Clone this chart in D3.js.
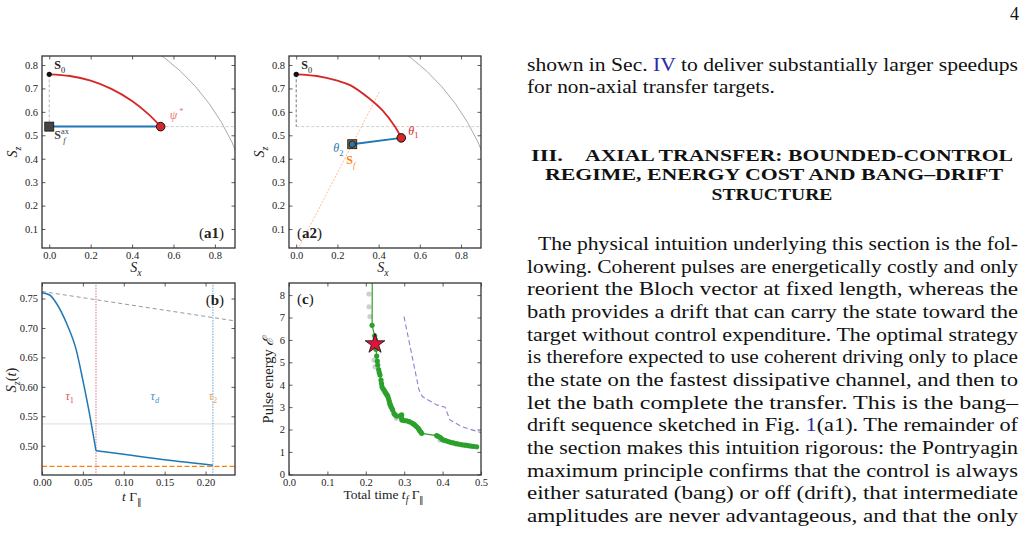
<!DOCTYPE html>
<html>
<head>
<meta charset="utf-8">
<script src="https://cdn.jsdelivr.net/npm/d3@7"></script>
<style>
body{margin:0;background:#fff;}
svg{display:block;font-family:"Liberation Serif","Times New Roman",serif;}
</style>
</head>
<body>
<svg id="page" width="1025" height="535"></svg>
<script>
// ---------- values ----------
// (a1) axial bang-drift path
var a1S0 = [0, 0.76];
var a1Psi = [0.538, 0.537];
var a1Target = [0, 0.537];
var a1Arc = [[0,0.760],[0.1,0.753],[0.2,0.733],[0.3,0.698],[0.4,0.646],[0.48,0.589],[0.538,0.537]];
var blochRadius = 1;

// (a2) non-axial target
var a2S0 = [0, 0.76];
var a2Theta1 = [0.51, 0.489];
var a2Sf = [0.272, 0.462];
var a2Arc = [[0,0.760],[0.1,0.753],[0.2,0.733],[0.262,0.714],[0.35,0.660],[0.42,0.605],[0.48,0.536],[0.51,0.489]];
var a2Ray = [[0,0],[0.406,0.689]];
var szAxial = 0.537;

// (b) S_z(t)
var bBang = [[0,0.760],[0.0094,0.756],[0.0176,0.742],[0.030,0.708],[0.042,0.662],[0.050,0.611],[0.058,0.555],[0.066,0.4915]];
var bDrift = [[0.066,0.4915],[0.10,0.4855],[0.15,0.476],[0.209,0.467]];
var bFree = [[0,0.762],[0.236,0.712]];
var tau1 = 0.066, tauEnd = 0.209;
var szTarget = 0.465;

// (c) pulse energy vs total time
var cFront = [[0.2170,9.5],[0.2164,6.65],[0.2231,6.18],[0.2248,6.00],[0.2266,5.58],[0.2283,5.28],[0.2300,5.05],
  [0.2310,4.88],[0.2335,4.68],[0.2350,4.55],[0.2370,4.43],[0.2396,4.21],[0.2410,4.05],[0.2422,3.91],
  [0.2450,3.82],[0.2474,3.76],[0.2500,3.68],[0.2526,3.61],[0.2550,3.55],[0.2570,3.49],[0.2595,3.37],
  [0.2610,3.27],[0.2622,3.17],[0.2640,3.10],[0.2656,3.02],[0.2680,2.95],[0.2700,2.87],[0.2734,2.72],
  [0.2760,2.66],[0.2804,2.60],[0.2900,2.62],[0.2934,2.65],[0.2934,2.50],[0.2940,2.42],[0.3000,2.40],
  [0.3064,2.39],[0.3130,2.35],[0.3194,2.30],[0.3240,2.25],[0.3280,2.20],[0.3320,2.13],[0.3368,2.05],
  [0.3400,1.96],[0.3428,1.90],[0.3455,1.83],[0.3845,1.73],[0.3880,1.70],[0.3932,1.65],[0.3980,1.58],
  [0.4019,1.53],[0.4080,1.50],[0.4149,1.46],[0.4210,1.43],[0.4280,1.40],[0.4350,1.37],[0.4410,1.35],
  [0.4480,1.33],[0.4540,1.31],[0.4600,1.30],[0.4670,1.28],[0.4740,1.26],[0.4800,1.25],[0.4887,1.23]];
var cGray = [[0.2083,8.05],[0.2083,7.48],[0.2109,7.04],[0.2214,5.10],[0.2240,4.80],[0.2795,2.50],[0.3932,1.53]];
var cBound = [[0.2995,7.04],[0.3385,3.77],[0.3472,3.47],[0.3850,3.10],[0.4063,3.00],[0.4190,2.43],[0.4497,2.13],[0.5000,1.86]];
var cStar = [0.224, 5.82];

// tick labels
var aXTicks = [0, 0.2, 0.4, 0.6, 0.8];
var aYTicks = [0.1, 0.2, 0.3, 0.4, 0.5, 0.6, 0.7, 0.8];
var bXTicks = [0, 0.05, 0.10, 0.15, 0.20];
var bYTicks = [0.50, 0.55, 0.60, 0.65, 0.70, 0.75];
var cXTicks = [0, 0.1, 0.2, 0.3, 0.4, 0.5];
var cYTicks = [0, 1, 2, 3, 4, 5, 6, 7, 8];

// page text
var pageNumber = "4";
var introLines = ["shown in Sec. {IV} to deliver substantially larger speedups", "for non-axial transfer targets."];
var headLines = ["AXIAL TRANSFER: BOUNDED-CONTROL", "REGIME, ENERGY COST AND BANG\u2013DRIFT", "STRUCTURE"];
var bodyLines = [
  "The physical intuition underlying this section is the fol-",
  "lowing. Coherent pulses are energetically costly and only",
  "reorient the Bloch vector at fixed length, whereas the",
  "bath provides a drift that can carry the state toward the",
  "target without control expenditure. The optimal strategy",
  "is therefore expected to use coherent driving only to place",
  "the state on the fastest dissipative channel, and then to",
  "let the bath complete the transfer. This is the bang\u2013",
  "drift sequence sketched in Fig. {1}(a1). The remainder of",
  "the section makes this intuition rigorous: the Pontryagin",
  "maximum principle confirms that the control is always",
  "either saturated (bang) or off (drift), that intermediate",
  "amplitudes are never advantageous, and that the only"
];

// ---------- drawing ----------
var svg = d3.select("#page");
svg.append("rect").attr("width",1025).attr("height",535).attr("fill","#fff");
var defs = svg.append("defs");
var RED = "#d62728", BLUE = "#1f77b4", ORANGE = "#ff7f0e", GREEN = "#2ca02c", LINK = "#2a2aa8";

function panel(id, left, top, w, h, xd, yd, xt, yt, xf, yf){
    var x = d3.scaleLinear().domain(xd).range([left, left+w]);
    var y = d3.scaleLinear().domain(yd).range([top+h, top]);
    defs.append("clipPath").attr("id","clip"+id).append("rect")
        .attr("x",left).attr("y",top).attr("width",w).attr("height",h);
    var g = svg.append("g");
    var plot = g.append("g").attr("clip-path","url(#clip"+id+")");
    var axes = [
        [d3.axisBottom(x).tickValues(xt).tickFormat(d3.format(xf)), "translate(0,"+(top+h)+")"],
        [d3.axisTop(x).tickValues(xt).tickFormat(""), "translate(0,"+top+")"],
        [d3.axisLeft(y).tickValues(yt).tickFormat(d3.format(yf)), "translate("+left+",0)"],
        [d3.axisRight(y).tickValues(yt).tickFormat(""), "translate("+(left+w)+",0)"]
    ];
    axes.forEach(function(a){
        var ax = g.append("g").attr("transform",a[1])
            .call(a[0].tickSize(-3.5).tickSizeOuter(0).tickPadding(4));
        ax.select(".domain").remove();
        ax.selectAll("line").attr("stroke","#333").attr("stroke-width",0.8);
        ax.selectAll("text").attr("font-family","Liberation Serif, serif").attr("font-size",10.5).attr("fill","#222");
    });
    g.append("rect").attr("x",left).attr("y",top).attr("width",w).attr("height",h)
        .attr("fill","none").attr("stroke","#333").attr("stroke-width",1.3);
    return {x:x, y:y, g:g, plot:plot};
}

// math-ish text: parts = [{t, i, b, sub, sup}]
function mtext(g, x, y, size, parts, fill){
    var t = g.append("text").attr("x",x).attr("y",y).attr("font-size",size).attr("fill",fill||"#222");
    var shift = 0;
    parts.forEach(function(p){
        var s = t.append("tspan").text(p.t);
        var target = p.sub ? size*0.3 : (p.sup ? -size*0.4 : 0);
        if(target !== shift){ s.attr("dy", target-shift); shift = target; }
        if(p.sub || p.sup) s.attr("font-size", size*0.7);
        if(p.i) s.attr("font-style","italic");
        if(p.b) s.attr("font-weight","bold");
        if(p.fill) s.attr("fill",p.fill);
    });
    return t;
}
function ylabel(x, y, size, parts){
    var g = svg.append("g").attr("transform","translate("+x+","+y+") rotate(-90)");
    mtext(g, 0, 0, size, parts).attr("text-anchor","middle");
}
function lineOf(p, curve){
    return d3.line().x(function(d){return p.x(d[0]);}).y(function(d){return p.y(d[1]);}).curve(curve||d3.curveLinear);
}

// ----- (a1) -----
var A1 = panel("a1", 42, 56, 193, 192, [-0.035,0.897], [0.019,0.8384], aXTicks, aYTicks, ".1f", ".1f");
A1.plot.append("ellipse").attr("cx",A1.x(0)).attr("cy",A1.y(0))
    .attr("rx",A1.x(blochRadius)-A1.x(0)).attr("ry",A1.y(0)-A1.y(blochRadius))
    .attr("fill","none").attr("stroke","#aaa").attr("stroke-width",1);
A1.plot.append("path").datum([a1Psi,[1,szAxial]]).attr("d",lineOf(A1))
    .attr("stroke","#c8c8c8").attr("stroke-width",0.9).attr("stroke-dasharray","3,2").attr("fill","none");
A1.plot.append("path").datum([a1S0,a1Target]).attr("d",lineOf(A1))
    .attr("stroke","#b8b8b8").attr("stroke-width",1).attr("stroke-dasharray","3,2").attr("fill","none");
A1.plot.append("path").datum(a1Arc).attr("d",lineOf(A1,d3.curveCatmullRom))
    .attr("stroke",RED).attr("stroke-width",1.8).attr("fill","none");
A1.plot.append("path").datum([a1Target,a1Psi]).attr("d",lineOf(A1))
    .attr("stroke",BLUE).attr("stroke-width",2).attr("fill","none");
A1.plot.append("rect").attr("x",A1.x(a1Target[0])-4.5).attr("y",A1.y(a1Target[1])-4.5)
    .attr("width",9).attr("height",9).attr("fill","#444").attr("stroke","#111").attr("stroke-width",0.8);
A1.plot.append("circle").attr("cx",A1.x(a1Psi[0])).attr("cy",A1.y(a1Psi[1])).attr("r",4.3)
    .attr("fill",RED).attr("stroke","#111").attr("stroke-width",1);
A1.plot.append("circle").attr("cx",A1.x(a1S0[0])).attr("cy",A1.y(a1S0[1])).attr("r",2.6).attr("fill","#111");
mtext(A1.g, A1.x(a1S0[0])+5, A1.y(a1S0[1])-5, 12, [{t:"S",b:true},{t:"0",sub:true}]);
mtext(A1.g, A1.x(a1Psi[0])+9, A1.y(a1Psi[1])-8, 12, [{t:"\u03c8",i:true},{t:" *",sup:true}], "#e8757a");
mtext(A1.g, A1.x(a1Target[0])+5, A1.y(a1Target[1])+12, 12, [{t:"S",b:true},{t:"ax",sup:true}], "#444");
mtext(A1.g, A1.x(a1Target[0])+14, A1.y(a1Target[1])+16, 8.5, [{t:"f",i:true}], "#444");
mtext(A1.g, 224, 238, 15, [{t:"("},{t:"a1",b:true},{t:")"}]).attr("text-anchor","end");
mtext(svg, 136, 272, 14, [{t:"S",i:true},{t:"x",i:true,sub:true}]).attr("text-anchor","middle");
ylabel(17, 152, 14, [{t:"S",i:true},{t:"z",i:true,sub:true}]);

// ----- (a2) -----
var A2 = panel("a2", 289, 56, 192, 192, [-0.035,0.897], [0.019,0.8384], aXTicks, aYTicks, ".1f", ".1f");
A2.plot.append("ellipse").attr("cx",A2.x(0)).attr("cy",A2.y(0))
    .attr("rx",A2.x(blochRadius)-A2.x(0)).attr("ry",A2.y(0)-A2.y(blochRadius))
    .attr("fill","none").attr("stroke","#aaa").attr("stroke-width",1);
A2.plot.append("path").datum([[0,szAxial],[1,szAxial]]).attr("d",lineOf(A2))
    .attr("stroke","#c8c8c8").attr("stroke-width",0.9).attr("stroke-dasharray","3,2").attr("fill","none");
A2.plot.append("path").datum([a2S0,[0,szAxial]]).attr("d",lineOf(A2))
    .attr("stroke","#666").attr("stroke-width",0.9).attr("stroke-dasharray","3,2").attr("fill","none");
A2.plot.append("path").datum(a2Ray).attr("d",lineOf(A2))
    .attr("stroke","#ffb482").attr("stroke-width",0.9).attr("stroke-dasharray","2,1.5").attr("fill","none");
A2.plot.append("path").datum(a2Arc).attr("d",lineOf(A2,d3.curveCatmullRom))
    .attr("stroke",RED).attr("stroke-width",1.8).attr("fill","none");
A2.plot.append("path").datum([a2Sf,a2Theta1]).attr("d",lineOf(A2))
    .attr("stroke",BLUE).attr("stroke-width",2).attr("fill","none");
A2.plot.append("rect").attr("x",A2.x(a2Sf[0])-4.5).attr("y",A2.y(a2Sf[1])-4.5)
    .attr("width",9).attr("height",9).attr("fill","#a0602a").attr("stroke","#111").attr("stroke-width",0.8);
A2.plot.append("circle").attr("cx",A2.x(a2Sf[0])).attr("cy",A2.y(a2Sf[1])).attr("r",3.3)
    .attr("fill",BLUE).attr("stroke","#111").attr("stroke-width",0.8);
A2.plot.append("circle").attr("cx",A2.x(a2Theta1[0])).attr("cy",A2.y(a2Theta1[1])).attr("r",4.3)
    .attr("fill",RED).attr("stroke","#111").attr("stroke-width",1);
A2.plot.append("circle").attr("cx",A2.x(a2S0[0])).attr("cy",A2.y(a2S0[1])).attr("r",2.6).attr("fill","#111");
mtext(A2.g, A2.x(a2S0[0])+5, A2.y(a2S0[1])-5, 12, [{t:"S",b:true},{t:"0",sub:true}]);
mtext(A2.g, A2.x(a2Theta1[0])+7, A2.y(a2Theta1[1])-3, 12, [{t:"\u03b8",i:true},{t:"1",sub:true}], RED);
mtext(A2.g, A2.x(a2Sf[0])-19, A2.y(a2Sf[1])+8, 12, [{t:"\u03b8",i:true},{t:"2",sub:true}], BLUE);
mtext(A2.g, A2.x(a2Sf[0])-6, A2.y(a2Sf[1])+20, 12, [{t:"S",b:true},{t:"f",i:true,sub:true}], ORANGE);
mtext(A2.g, 297, 238, 15, [{t:"("},{t:"a2",b:true},{t:")"}]);
mtext(svg, 383, 272, 14, [{t:"S",i:true},{t:"x",i:true,sub:true}]).attr("text-anchor","middle");
ylabel(264, 152, 14, [{t:"S",i:true},{t:"z",i:true,sub:true}]);

// ----- (b) -----
var B = panel("b", 42, 283, 193, 192, [0,0.236], [0.4503,0.7764], bXTicks, bYTicks, ".2f", ".2f");
B.plot.append("path").datum([[0,szAxial],[1,szAxial]]).attr("d",lineOf(B))
    .attr("stroke","#dcdcdc").attr("stroke-width",1).attr("fill","none");
B.plot.append("path").datum([[0,szTarget],[1,szTarget]]).attr("d",lineOf(B))
    .attr("stroke",ORANGE).attr("stroke-width",1.3).attr("stroke-dasharray","5,2.5").attr("fill","none");
B.plot.append("path").datum(bFree).attr("d",lineOf(B))
    .attr("stroke","#999").attr("stroke-width",1).attr("stroke-dasharray","4,3").attr("fill","none");
B.plot.append("path").datum([[tau1,0],[tau1,1]]).attr("d",lineOf(B))
    .attr("stroke","#e0707a").attr("stroke-width",1).attr("stroke-dasharray","1.5,1.2").attr("fill","none");
B.plot.append("path").datum([[tauEnd,0],[tauEnd,1]]).attr("d",lineOf(B))
    .attr("stroke","#6aa3d5").attr("stroke-width",1).attr("stroke-dasharray","1.5,1.2").attr("fill","none");
B.plot.append("path").datum(bBang).attr("d",lineOf(B,d3.curveMonotoneX))
    .attr("stroke",BLUE).attr("stroke-width",1.5).attr("fill","none");
B.plot.append("path").datum(bDrift).attr("d",lineOf(B,d3.curveMonotoneX))
    .attr("stroke",BLUE).attr("stroke-width",1.5).attr("fill","none");
mtext(B.g, B.x(0.034), B.y(0.578), 12, [{t:"\u03c4",i:true},{t:"1",sub:true}], "#e0505a").attr("text-anchor","middle");
mtext(B.g, B.x(0.138), B.y(0.578), 12, [{t:"\u03c4",i:true},{t:"d",i:true,sub:true}], "#4a8cc8").attr("text-anchor","middle");
mtext(B.g, B.x(0.209), B.y(0.578), 12, [{t:"\u03c4",i:true},{t:"2",sub:true}], "#f0a050").attr("text-anchor","middle");
mtext(B.g, 224, 305, 15, [{t:"("},{t:"b",b:true},{t:")"}]).attr("text-anchor","end");
mtext(svg, 132, 501, 13.5, [{t:"t",i:true},{t:" \u0393"},{t:"\u2225",sub:true}]).attr("text-anchor","middle");
ylabel(16, 380, 14.5, [{t:"S",i:true},{t:"z",i:true,sub:true},{t:"("},{t:"t",i:true},{t:")"}]);

// ----- (c) -----
var C = panel("c", 289, 283, 192, 192, [0,0.5], [-0.03,8.54], cXTicks, cYTicks, ".1f", "d");
C.plot.selectAll(".gdot").data(cGray).enter().append("circle")
    .attr("cx",function(d){return C.x(d[0]);}).attr("cy",function(d){return C.y(d[1]);})
    .attr("r",2.6).attr("fill","#cfcfcf");
C.plot.append("path").datum(cBound).attr("d",lineOf(C))
    .attr("stroke","#9a7ad0").attr("stroke-width",1.1).attr("stroke-dasharray","5,3").attr("fill","none");
C.plot.append("path").datum(cFront).attr("d",lineOf(C))
    .attr("stroke",GREEN).attr("stroke-width",1.2).attr("fill","none");
C.plot.selectAll(".fdot").data(cFront.slice(1)).enter().append("circle")
    .attr("cx",function(d){return C.x(d[0]);}).attr("cy",function(d){return C.y(d[1]);})
    .attr("r",2.6).attr("fill",GREEN);
C.plot.append("path").attr("d",d3.symbol(d3.symbolStar).size(120))
    .attr("transform","translate("+C.x(cStar[0])+","+C.y(cStar[1])+")")
    .attr("fill","#dc143c").attr("stroke","#111").attr("stroke-width",0.8);
mtext(C.g, 297, 304, 15, [{t:"("},{t:"c",b:true},{t:")"}]);
mtext(svg, 384, 499, 13.5, [{t:"Total time "},{t:"t",i:true},{t:"f",i:true,sub:true},{t:" \u0393"},{t:"\u2225",sub:true}]).attr("text-anchor","middle");
ylabel(273, 380, 14.5, [{t:"Pulse energy "},{t:"\u2130",i:true}]);

// ----- page text -----
// justified lines are stretched to the column like the wider TeX font
var stretch = 1;
function addLine(x0, x1, y, str, size, justify, weight){
    var t = svg.append("text").attr("x",x0).attr("y",y).attr("font-size",size).attr("fill","#111");
    if(weight) t.attr("font-weight",weight);
    str.split(/(\{[^}]*\})/).forEach(function(piece){
        if(!piece) return;
        if(piece.charAt(0)==="{") t.append("tspan").attr("fill",LINK).text(piece.slice(1,-1));
        else t.append("tspan").text(piece);
    });
    var len = t.node().getComputedTextLength();
    if(justify){
        stretch = (x1-x0)/len;
        t.attr("textLength", x1-x0).attr("lengthAdjust","spacingAndGlyphs");
    } else if(stretch !== 1){
        t.attr("textLength", len*Math.min(stretch,1.12)).attr("lengthAdjust","spacingAndGlyphs");
    }
    return t;
}
svg.append("text").attr("x",1019).attr("y",20).attr("font-size",18).attr("text-anchor","end").attr("fill","#111").text(pageNumber);
addLine(527, 1018, 71, introLines[0], 19, true);
addLine(527, 1018, 93, introLines[1], 19, false);
addLine(531, 563, 160.5, "III.", 17.5, true, "bold");
addLine(585, 1013, 160.5, headLines[0], 17.5, true, "bold");
addLine(545, 1003, 180, headLines[1], 17.5, true, "bold");
var h3 = addLine(772, 772, 199.5, headLines[2], 17.5, false, "bold");
h3.attr("x", 772 - (+h3.attr("textLength"))/2);
bodyLines.forEach(function(s, i){
    addLine(i===0 ? 538 : 527, 1018, 250 + i*22.67, s, 19, true);
});
</script>
</body>
</html>
